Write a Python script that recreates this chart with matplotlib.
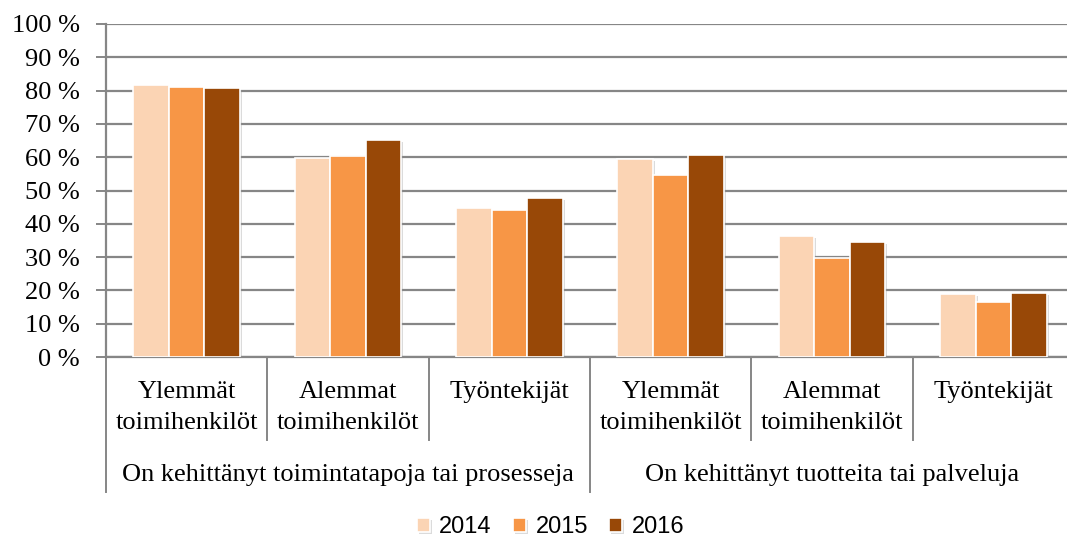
import matplotlib
matplotlib.use("Agg")
import matplotlib.pyplot as plt
import matplotlib.transforms as mtransforms
import matplotlib.patheffects as pe
import numpy as np

# =====================================================
# DATA
# =====================================================

categories = [
    "Ylemmät\ntoimihenkilöt",
    "Alemmat\ntoimihenkilöt",
    "Työntekijät",
    "Ylemmät\ntoimihenkilöt",
    "Alemmat\ntoimihenkilöt",
    "Työntekijät",
]
groups = [
    "On kehittänyt toimintatapoja tai prosesseja",
    "On kehittänyt tuotteita tai palveluja",
]
years = ["2014", "2015", "2016"]

v2014 = [81.7, 59.8, 44.7, 59.4, 36.3, 19.0]
v2015 = [81.2, 60.4, 44.2, 54.6, 29.6, 16.5]
v2016 = [80.7, 65.2, 47.7, 60.6, 34.5, 19.2]

colors = ["#FBD4B4", "#F79646", "#984807"]
grid_color = "#868686"
SERIF = "Liberation Serif"
FS = 19

# =====================================================
# FIGURE
# =====================================================

fig = plt.figure(figsize=(10.67, 5.38), dpi=100)
ax = fig.add_axes([106 / 1067, 1 - 357 / 538, 968 / 1067, 333 / 538])

x = np.arange(len(categories)) + 0.5
width = 0.22
shadow = [pe.SimplePatchShadow(offset=(1.5, -1.5), shadow_rgbFace="#999999", alpha=0.35), pe.Normal()]

for i, (vals, col, yr) in enumerate(zip([v2014, v2015, v2016], colors, years)):
    bars = ax.bar(x + (i - 1) * width, vals, width, color=col, edgecolor="white",
                  linewidth=1.2, label=yr, zorder=3)
    for b in bars:
        b.set_path_effects(shadow)

ax.set_xlim(0, len(categories))
ax.set_ylim(0, 100)
ax.set_yticks(np.arange(0, 101, 10))
ax.set_yticklabels([f"{t} %" for t in range(0, 101, 10)])
ax.yaxis.grid(True, color=grid_color, linewidth=1.6, zorder=0)
ax.set_axisbelow(True)

for s in ["top", "right"]:
    ax.spines[s].set_visible(False)
for s in ["left", "bottom"]:
    ax.spines[s].set_color(grid_color)
    ax.spines[s].set_linewidth(1.6)

ax.tick_params(axis="y", length=7, width=1.4, color=grid_color, pad=12,
               labelsize=FS)
ax.set_xticks([])
for lab in ax.get_yticklabels():
    lab.set_fontfamily(SERIF)

# =====================================================
# CATEGORY LABELS + SEPARATORS
# =====================================================

trans = mtransforms.blended_transform_factory(ax.transData, ax.transAxes)

for pos in [1, 2, 4, 5]:
    ax.plot([pos, pos], [0, -0.25], transform=trans, color=grid_color,
            linewidth=1.4, clip_on=False)
for pos in [0, 3, 6]:
    ax.plot([pos, pos], [0, -0.405], transform=trans, color=grid_color,
            linewidth=1.4, clip_on=False)

line_y = [-0.105, -0.198]
for xi, lab in zip(x, categories):
    for ly, part in zip(line_y, lab.split("\n")):
        ax.text(xi, ly, part, transform=trans, ha="center", va="center",
                fontsize=FS, family=SERIF)

for gi, g in enumerate(groups):
    ax.text(gi * 3 + 1.5, -0.355, g, transform=trans, ha="center", va="center",
            fontsize=FS, family=SERIF)

# =====================================================
# LEGEND
# =====================================================

fig.legend(loc="center", bbox_to_anchor=(0.516, 1 - 527 / 538), ncol=3,
           frameon=False, prop={"family": "Liberation Sans", "size": 17},
           handlelength=0.55, handleheight=0.55, handletextpad=0.4,
           columnspacing=0.9)

fig.savefig("out.png", dpi=100)
